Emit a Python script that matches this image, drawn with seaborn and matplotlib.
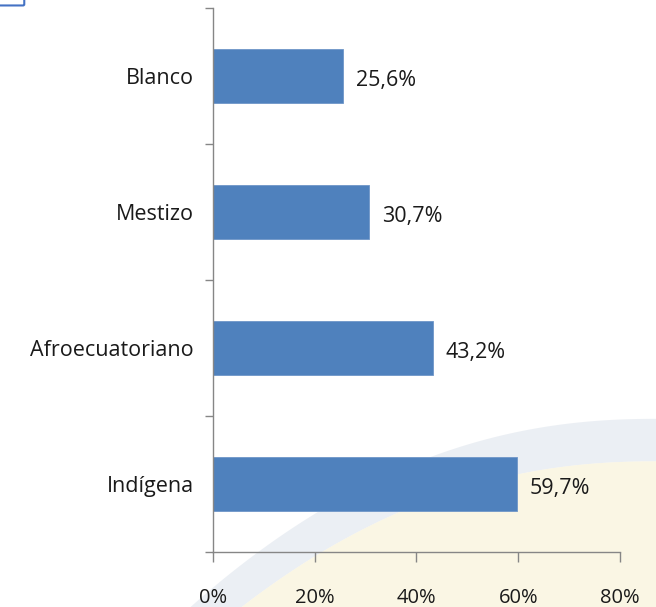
import numpy as np
import pandas as pd
import matplotlib
matplotlib.use("Agg")
import matplotlib.pyplot as plt
import seaborn as sns
from matplotlib.patches import Polygon, FancyBboxPatch

# --- Data ---
categories = ["Blanco", "Mestizo", "Afroecuatoriano", "Indígena"]
values = [25.6, 30.7, 43.2, 59.7]
x_ticks = [0, 20, 40, 60, 80]
x_tick_labels = ["0%", "20%", "40%", "60%", "80%"]

df = pd.DataFrame({"grupo": categories, "pct": values})

sns.set_theme(style="white")
plt.rcParams["font.family"] = ["Open Sans", "DejaVu Sans"]

fig = plt.figure(figsize=(6.56, 6.07), dpi=100)
fig.patch.set_facecolor("white")

# --- Decorative slide background (soft swoosh), in its own axes behind the chart ---
bg = fig.add_axes([0, 0, 1, 1], zorder=-1)
bg.set_xlim(0, 1)
bg.set_ylim(0, 1)
bg.axis("off")
t = np.linspace(0, 1, 80)
arc_x = 0.27 + 0.73 * t
arc_top = 0.31 - 0.33 * (1 - t) ** 2.2
arc_bot = arc_top - 0.07
band = np.column_stack([np.r_[arc_x, arc_x[::-1]], np.r_[arc_top, arc_bot[::-1]]])
bg.add_patch(Polygon(band, closed=True, facecolor="#cfd8e4", alpha=0.4, edgecolor="none"))
yellow = np.column_stack([np.r_[arc_x, 1.0, 0.27], np.r_[arc_bot, 0.0, 0.0]])
bg.add_patch(Polygon(yellow, closed=True, facecolor="#f7efcf", alpha=0.55, edgecolor="none"))
# small box fragment in top-left corner
bg.add_patch(FancyBboxPatch((-0.02, 0.993), 0.055, 0.03, boxstyle="round,pad=0.002",
                            facecolor="white", edgecolor="#4472c4", linewidth=1.5))

ax = fig.add_axes([0.3247, 0.0906, 0.6204, 0.8962])
ax.patch.set_alpha(0)

sns.barplot(data=df, x="pct", y="grupo", orient="h", color="#4f81bd",
            saturation=1, width=0.4, edgecolor="#6f96c8", linewidth=0.6, ax=ax)

for i, v in enumerate(values):
    ax.text(v + 2.5, i + 0.03, f"{v:.1f}%".replace(".", ","), va="center", ha="left",
            fontsize=15.5, color="#1a1a1a")

ax.set_xlim(0, 80)
ax.set_ylim(3.5, -0.5)
ax.set_xticks(x_ticks)
ax.set_xticklabels(x_tick_labels, fontsize=14.5, color="#1a1a1a")
ax.set_yticks(np.arange(-0.5, 4, 1), minor=True)
ax.tick_params(axis="y", which="major", length=0, pad=14, labelsize=15.5, labelcolor="#1a1a1a")
ax.tick_params(axis="y", which="minor", length=6, width=1, color="#868686", direction="out", left=True)
ax.tick_params(axis="x", which="major", length=7, width=1, color="#868686", direction="out",
               bottom=True, pad=19)
ax.set_xlabel("")
ax.set_ylabel("")

for side in ["top", "right"]:
    ax.spines[side].set_visible(False)
for side in ["left", "bottom"]:
    ax.spines[side].set_color("#868686")
    ax.spines[side].set_linewidth(1)

fig.savefig("out.png", dpi=100)
